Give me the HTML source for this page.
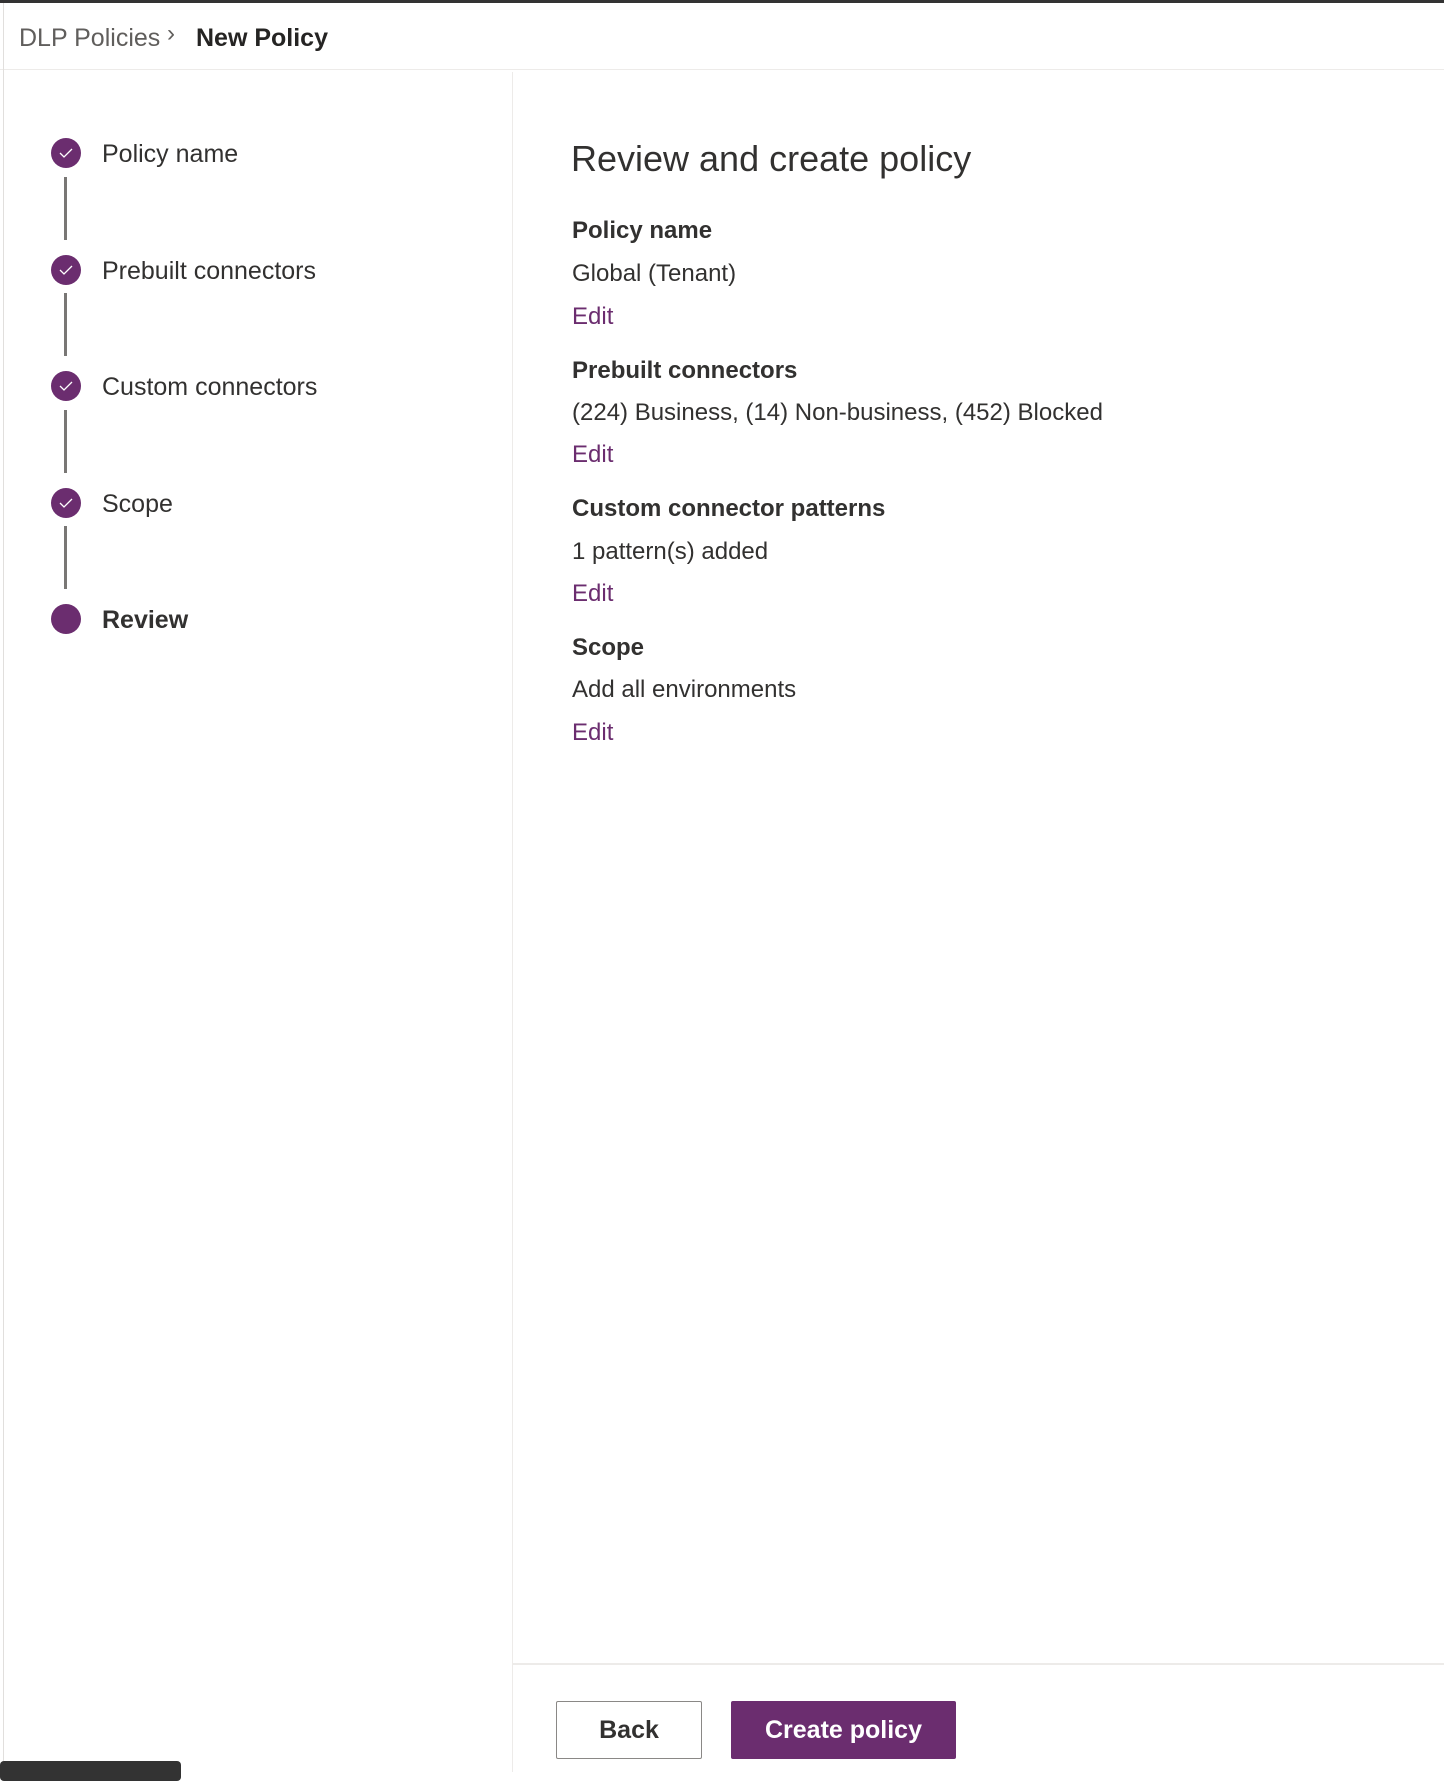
<!DOCTYPE html>
<html><head><meta charset="utf-8"><style>
*{margin:0;padding:0;box-sizing:border-box}
body{width:1444px;height:1772px;background:#fff;font-family:"Liberation Sans",sans-serif;color:#323130;position:relative;overflow:hidden}
.abs{position:absolute;white-space:nowrap}
.circ{position:absolute;left:51px;width:30px;height:30px;border-radius:50%;background:#6b2d6f}
.circ svg{position:absolute;left:8px;top:9px}
.vl{position:absolute;left:64px;width:3px;height:63px;background:#797775}
.lbl{position:absolute;left:102px;font-size:25px;line-height:30px;color:#323130}
.h{position:absolute;left:572px;font-size:24px;font-weight:bold;color:#323130}
.v{position:absolute;left:572px;font-size:24px;color:#323130}
.e{position:absolute;left:572px;font-size:24px;color:#6b2d6f}
</style></head><body>
<div class="abs" style="left:0;top:0;width:1444px;height:3px;background:#333"></div>
<div class="abs" style="left:19px;top:24px;font-size:25px;color:#605e5c">DLP Policies</div>
<div class="abs" style="left:167px;top:20px;font-size:24px;color:#605e5c">&#x203A;</div>
<div class="abs" style="left:196px;top:24px;font-size:25px;font-weight:bold;color:#252423">New Policy</div>
<div class="abs" style="left:0;top:69px;width:1444px;height:1px;background:#edebe9"></div>
<div class="abs" style="left:3px;top:3px;width:1px;height:1769px;background:#e1dfdd"></div>
<div class="abs" style="left:512px;top:72px;width:1px;height:1700px;background:#edebe9"></div>

<div class="circ" style="top:138px"><svg width="14" height="12"><path d="M1 6 L5 10 L13 2" stroke="#fff" stroke-width="1.3" fill="none"/></svg></div>
<div class="vl" style="top:177px"></div>
<div class="circ" style="top:255px"><svg width="14" height="12"><path d="M1 6 L5 10 L13 2" stroke="#fff" stroke-width="1.3" fill="none"/></svg></div>
<div class="vl" style="top:293px"></div>
<div class="circ" style="top:371px"><svg width="14" height="12"><path d="M1 6 L5 10 L13 2" stroke="#fff" stroke-width="1.3" fill="none"/></svg></div>
<div class="vl" style="top:410px"></div>
<div class="circ" style="top:488px"><svg width="14" height="12"><path d="M1 6 L5 10 L13 2" stroke="#fff" stroke-width="1.3" fill="none"/></svg></div>
<div class="vl" style="top:526px"></div>
<div class="circ" style="top:604px"></div>

<div class="lbl" style="top:139px">Policy name</div>
<div class="lbl" style="top:256px">Prebuilt connectors</div>
<div class="lbl" style="top:372px">Custom connectors</div>
<div class="lbl" style="top:489px">Scope</div>
<div class="lbl" style="top:605px;font-weight:bold">Review</div>

<div class="abs" style="left:571px;top:138px;font-size:36px;color:#323130">Review and create policy</div>

<div class="h" style="top:217px">Policy name</div>
<div class="v" style="top:260px">Global (Tenant)</div>
<div class="e" style="top:303px">Edit</div>
<div class="h" style="top:357px">Prebuilt connectors</div>
<div class="v" style="top:399px">(224) Business, (14) Non-business, (452) Blocked</div>
<div class="e" style="top:441px">Edit</div>
<div class="h" style="top:495px">Custom connector patterns</div>
<div class="v" style="top:538px">1 pattern(s) added</div>
<div class="e" style="top:580px">Edit</div>
<div class="h" style="top:634px">Scope</div>
<div class="v" style="top:676px">Add all environments</div>
<div class="e" style="top:719px">Edit</div>

<div class="abs" style="left:513px;top:1663px;width:931px;height:2px;background:#edebe9"></div>
<div class="abs" style="left:556px;top:1701px;width:146px;height:58px;border:1px solid #8a8886;border-radius:2px;font-size:25px;font-weight:bold;color:#323130;text-align:center;line-height:56px">Back</div>
<div class="abs" style="left:731px;top:1701px;width:225px;height:58px;background:#6b2d6f;border-radius:2px;font-size:25px;font-weight:bold;color:#fff;text-align:center;line-height:58px">Create policy</div>
<div class="abs" style="left:0;top:1761px;width:181px;height:20px;background:#333;border-radius:4px"></div>
</body></html>
